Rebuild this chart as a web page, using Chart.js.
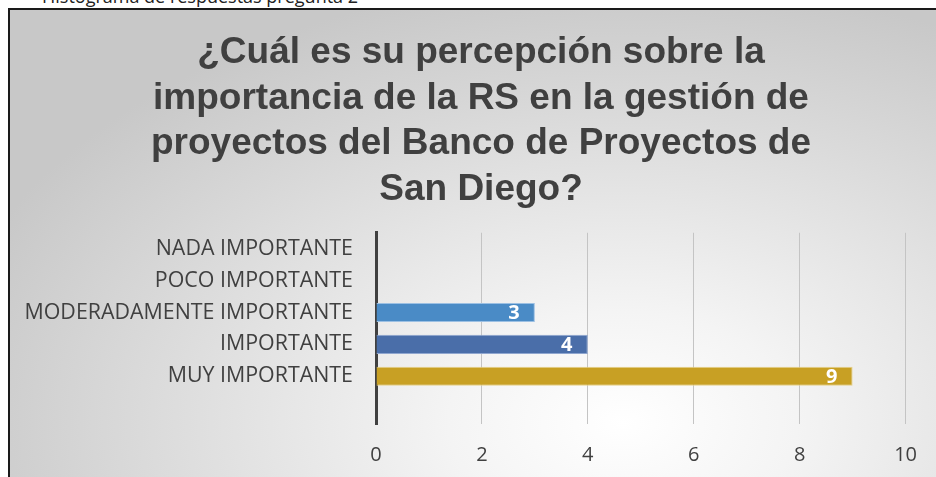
<!DOCTYPE html>
<html>
<head>
<meta charset="utf-8">
<script src="https://cdn.jsdelivr.net/npm/chart.js@4"></script>
<style>
  body { margin: 0; background: #fff; overflow: hidden; }
  #caption {
    position: absolute; left: 42px; top: -16px;
    font-family: "Open Sans", sans-serif; font-size: 18px; color: #222;
  }
  #frame {
    position: absolute; left: 8px; top: 8px; width: 928px; height: 469px;
    border-top: 2px solid #1a1a1a; border-left: 2px solid #1a1a1a;
    background: radial-gradient(ellipse 75% 95% at 66% 88%, #ffffff 0%, #f4f4f4 25%, #c8c8c8 100%);
  }
</style>
</head>
<body>
<div id="caption">Histograma de respuestas pregunta 2</div>
<div id="frame"><canvas id="myChart" width="926" height="467"></canvas></div>
<script>
// chart data
const categories = ["NADA IMPORTANTE", "POCO IMPORTANTE", "MODERADAMENTE IMPORTANTE", "IMPORTANTE", "MUY IMPORTANTE", ""];
const answers = [0, 0, 3, 4, 9, null];
const xTicks = [0, 2, 4, 6, 8, 10];

const barColors = ["#4a8bc6", "#4a8bc6", "#4a8bc6", "#4a6ea9", "#c8a024", "#c8a024"];
const barBorders = ["#9cc0e3", "#9cc0e3", "#9cc0e3", "#8fa6cf", "#e6cf86", "#e6cf86"];

// white value labels drawn at the inner end of each bar
const valueLabels = {
  id: "valueLabels",
  afterDatasetsDraw(chart) {
    const ctx = chart.ctx;
    const meta = chart.getDatasetMeta(0);
    ctx.save();
    ctx.fillStyle = "#ffffff";
    ctx.font = "bold 20px 'Open Sans'";
    ctx.textAlign = "center";
    ctx.textBaseline = "middle";
    meta.data.forEach((bar, i) => {
      const v = answers[i];
      if (!v) return;
      ctx.fillText(String(v), bar.x - 21, bar.y + 1);
    });
    ctx.restore();
  },
};

// left padding is only there to centre the title; let the category labels use it
const unclipLabels = {
  id: "unclipLabels",
  afterLayout(chart) {
    chart.scales.y.left = 0;
  },
};

const ctx = document.getElementById("myChart").getContext("2d");
new Chart(ctx, {
  type: "bar",
  data: {
    labels: categories,
    datasets: [{
      data: answers,
      backgroundColor: barColors,
      borderColor: barBorders,
      borderWidth: 1,
      borderSkipped: "left",
      categoryPercentage: 1,
      barPercentage: 0.6,
    }],
  },
  options: {
    indexAxis: "y",
    responsive: false,
    animation: false,
    layout: { padding: { left: 40, right: 24, top: 0, bottom: -9 } },
    plugins: {
      legend: { display: false },
      tooltip: { enabled: false },
      title: {
        display: true,
        text: [
          "¿Cuál es su percepción sobre la",
          "importancia de la RS en la gestión de",
          "proyectos del Banco de Proyectos de",
          "San Diego?",
        ],
        color: "#404040",
        font: { family: "'Liberation Sans', Arial", size: 37, weight: "bold", lineHeight: 1.235 },
        padding: { top: 20, bottom: 20 },
      },
    },
    scales: {
      x: {
        min: 0,
        max: 10,
        afterBuildTicks: (scale) => { scale.ticks = xTicks.map((v) => ({ value: v })); },
        grid: {
          color: (c) => (c.index === 0 ? "rgba(0,0,0,0)" : "#c4c4c4"),
          lineWidth: 1,
          drawTicks: false,
        },
        border: { display: false },
        ticks: {
          color: "#404040",
          font: { family: "'Open Sans'", size: 20 },
          padding: 19,
        },
      },
      y: {
        grid: { display: false },
        border: { display: true, color: "#404040", width: 3 },
        afterFit: (scale) => { scale.width = 326; },
        ticks: {
          color: "#404040",
          font: { family: "'Open Sans'", size: 21.4 },
          padding: 15,
        },
      },
    },
  },
  plugins: [valueLabels, unclipLabels],
});
</script>
</body>
</html>
